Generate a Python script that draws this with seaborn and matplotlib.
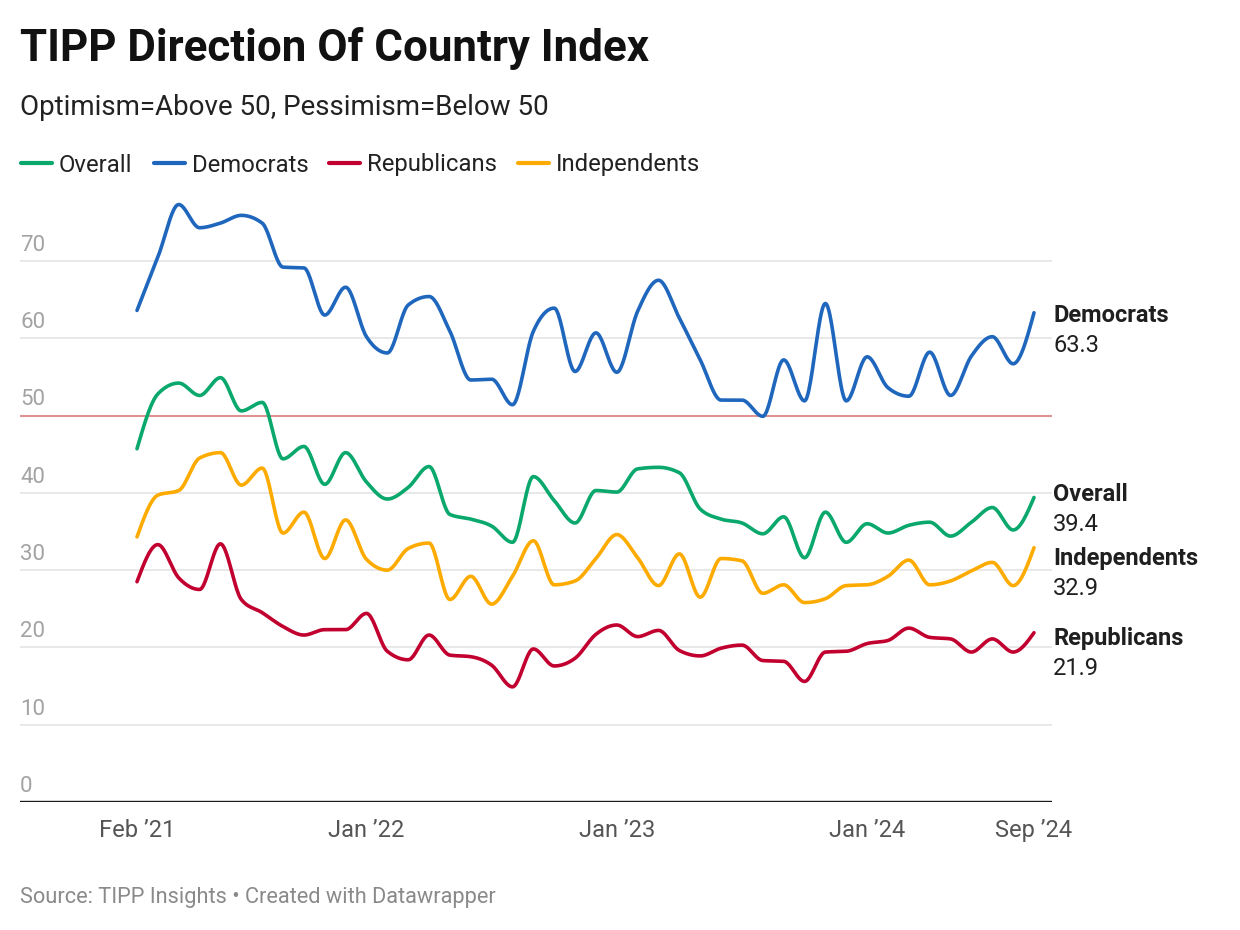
import numpy as np
import pandas as pd
import matplotlib
matplotlib.use('Agg')
import matplotlib.pyplot as plt
import seaborn as sns
from matplotlib.lines import Line2D

# Dữ liệu (hàng tháng, Feb 2021 -> Sep 2024)
months = pd.date_range('2021-02-01', '2024-09-01', freq='MS')

overall = [45.7, 52.8, 54.2, 52.6, 54.9, 50.6, 51.7, 44.4, 46.0, 41.1, 45.2, 41.4, 39.2, 40.7, 43.4,
           37.2, 36.6, 35.7, 33.6, 42.1, 39.0, 36.1, 40.3, 40.1, 43.1, 43.3, 42.6, 37.9, 36.6, 36.1,
           34.7, 36.9, 31.6, 37.5, 33.6, 36.0, 34.8, 35.8, 36.2, 34.4, 36.2, 38.1, 35.2, 39.4]
democrats = [63.6, 70.5, 77.3, 74.3, 74.9, 75.9, 74.9, 69.2, 69.1, 63.0, 66.6, 60.2, 58.1, 64.3, 65.4,
             60.9, 54.6, 54.7, 51.4, 60.9, 63.9, 55.7, 60.7, 55.6, 63.5, 67.5, 62.6, 57.2, 52.0, 52.0,
             49.9, 57.2, 51.9, 64.5, 51.9, 57.6, 53.6, 52.5, 58.2, 52.6, 57.7, 60.2, 56.7, 63.3]
republicans = [28.5, 33.3, 29.0, 27.5, 33.4, 26.2, 24.5, 22.7, 21.6, 22.3, 22.3, 24.4, 19.5, 18.4, 21.6,
               19.0, 18.8, 17.7, 14.9, 19.8, 17.6, 18.6, 21.7, 22.9, 21.4, 22.2, 19.6, 18.9, 19.9, 20.3,
               18.3, 18.2, 15.6, 19.4, 19.5, 20.5, 20.9, 22.5, 21.3, 21.1, 19.4, 21.1, 19.4, 21.9]
independents = [34.3, 39.7, 40.3, 44.5, 45.2, 41.0, 43.2, 34.8, 37.5, 31.5, 36.5, 31.4, 30.0, 32.8, 33.5,
                26.2, 29.2, 25.6, 29.2, 33.8, 28.1, 28.6, 31.5, 34.6, 31.6, 28.0, 32.1, 26.5, 31.5, 31.2,
                27.0, 28.1, 25.8, 26.3, 28.0, 28.1, 29.2, 31.3, 28.1, 28.6, 29.9, 31.0, 28.0, 32.9]

series_names = ['Overall', 'Democrats', 'Republicans', 'Independents']
series_colors = ['#0aa86c', '#1f66bd', '#c1002f', '#fdab00']
tick_months = ['2021-02', '2022-01', '2023-01', '2024-01', '2024-09']
tick_labels = ['Feb ’21', 'Jan ’22', 'Jan ’23', 'Jan ’24', 'Sep ’24']
y_ticks = [0, 10, 20, 30, 40, 50, 60, 70]

values = dict(zip(series_names, [overall, democrats, republicans, independents]))
palette = dict(zip(series_names, series_colors))


def sign(v):
    return -1.0 if v < 0 else 1.0


# đường cong kiểu monotoneX (giống Datawrapper) chỉ để vẽ
def monotone_curve(y, steps=24):
    y = np.asarray(y, dtype=float)
    n = len(y)
    d = np.diff(y)
    t = np.zeros(n)
    for i in range(1, n - 1):
        s0, s1 = d[i - 1], d[i]
        p = (s0 + s1) / 2
        t[i] = (sign(s0) + sign(s1)) * min(abs(s0), abs(s1), 0.5 * abs(p))
    t[0] = (3 * d[0] - t[1]) / 2
    t[-1] = (3 * d[-1] - t[-2]) / 2
    xs, ys = [], []
    u = np.linspace(0, 1, steps, endpoint=False)
    h00 = 2 * u**3 - 3 * u**2 + 1
    h10 = u**3 - 2 * u**2 + u
    h01 = -2 * u**3 + 3 * u**2
    h11 = u**3 - u**2
    for i in range(n - 1):
        xs.extend(i + u)
        ys.extend(h00 * y[i] + h10 * t[i] + h01 * y[i + 1] + h11 * t[i + 1])
    xs.append(n - 1)
    ys.append(y[-1])
    return np.array(xs), np.array(ys)


frames = []
for name in series_names:
    cx, cy = monotone_curve(values[name])
    frames.append(pd.DataFrame({'month': cx, 'value': cy, 'series': name}))
curves = pd.concat(frames, ignore_index=True)

sns.set_theme(style='white')
plt.rcParams['font.family'] = ['Roboto', 'DejaVu Sans']

W, H = 1240, 930
fig = plt.figure(figsize=(W / 100, H / 100), dpi=100)


def fx(px):
    return px / W


def fy(py):
    return 1 - py / H


# vùng vẽ: 0 ở y=802px, 7.729 px / đơn vị; tháng đầu ở x=137px, 20.86 px / tháng
ax = fig.add_axes([fx(20), fy(802), fx(1052) - fx(20), (802 - 191.4) / H])
ax.set_xlim(-(137 - 20) / 20.86, 43 + (1052 - 1034) / 20.86)
ax.set_ylim(0, 79)

for v in y_ticks[1:]:
    ax.axhline(v, color='#de8585' if v == 50 else '#e6e6e6', lw=1.3, zorder=0)
ax.axhline(0, color='#1a1a1a', lw=1.7, zorder=3)

sns.lineplot(data=curves, x='month', y='value', hue='series', palette=palette,
             hue_order=series_names, estimator=None, sort=False, linewidth=2.6,
             legend=False, ax=ax, zorder=2)

for v in y_ticks:
    ax.annotate(str(v), xy=(0, v), xycoords=ax.get_yaxis_transform(),
                xytext=(0, 7.3), textcoords='offset points', ha='left', va='baseline',
                fontsize=16, color='#a3a3a3')

month_index = [months.get_loc(pd.Timestamp(m + '-01')) for m in tick_months]
ax.set_xticks(month_index, tick_labels)
ax.set_yticks([])
ax.tick_params(axis='x', length=0, pad=12.5, labelsize=17, labelcolor='#555555')
ax.set_xlabel('')
ax.set_ylabel('')
for s in ax.spines.values():
    s.set_visible(False)

# nhãn cuối đường
nudge = {'Democrats': -0.4, 'Overall': 0.35, 'Independents': -1.4, 'Republicans': -0.7}
for name in series_names:
    last = values[name][-1]
    ax.annotate(name, xy=(1.001, last + nudge[name]), xycoords=ax.get_yaxis_transform(),
                ha='left', va='center', fontsize=17, fontweight='bold', color='#1f1f1f',
                annotation_clip=False)
    ax.annotate(f'{last:.1f}', xy=(1.001, last + nudge[name]), xycoords=ax.get_yaxis_transform(),
                xytext=(0, -21.5), textcoords='offset points', ha='left', va='center',
                fontsize=17, color='#1f1f1f', annotation_clip=False)

fig.text(fx(20), fy(61), 'TIPP Direction Of Country Index', fontsize=31.6, fontweight='bold',
         color='#111111', va='baseline')
fig.text(fx(20), fy(115), 'Optimism=Above 50, Pessimism=Below 50', fontsize=20,
         color='#222222', va='baseline')
fig.text(fx(20), fy(903), 'Source: TIPP Insights • Created with Datawrapper', fontsize=15.7,
         color='#8a8a8a', va='baseline')

# chú thích
renderer = fig.canvas.get_renderer()
x_px = 21
for name in series_names:
    fig.add_artist(Line2D([fx(x_px), fx(x_px + 31)], [fy(163), fy(163)],
                          color=palette[name], lw=3, solid_capstyle='round'))
    t = fig.text(fx(x_px + 38), fy(171.5), name, fontsize=17.2, color='#222222', va='baseline')
    x_px = t.get_window_extent(renderer).x1 + 21

plt.savefig('out.png', dpi=100)
